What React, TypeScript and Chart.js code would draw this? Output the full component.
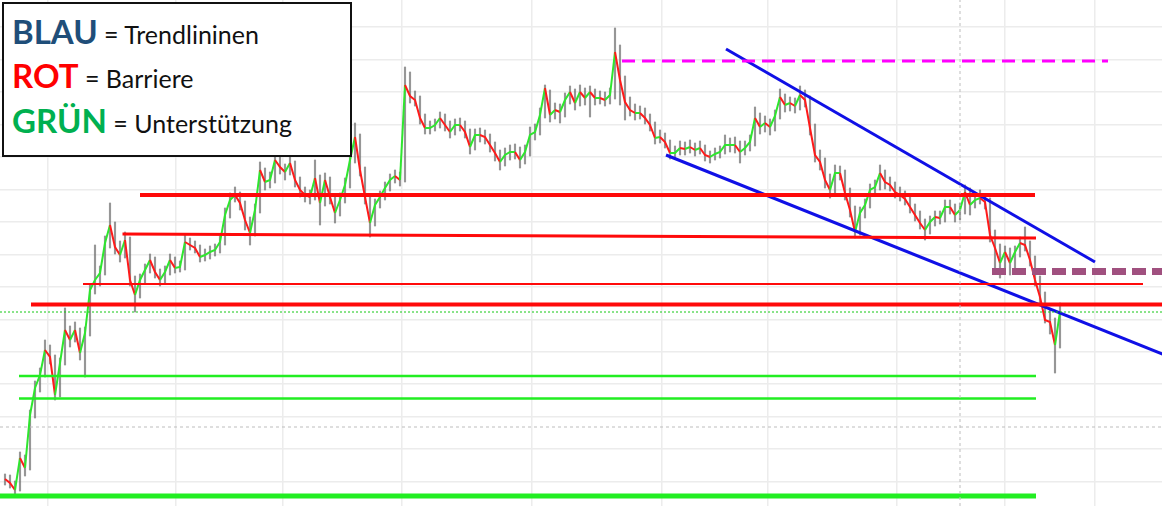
import React, { useEffect, useRef } from "react";
import { Chart, registerables } from "chart.js";

Chart.register(...registerables);

// Price series (one value per session)
const closes = [
  102.1, 101.7, 101.0, 104.2, 103.2, 108.5, 111.2, 112.5, 115.0, 114.3,
  110.5, 113.7, 117.0, 116.0, 117.0, 114.7, 116.7, 121.0, 122.0, 122.7,
  125.7, 127.5, 125.3, 124.5, 126.0, 122.0, 120.5, 122.0, 123.0, 124.0,
  122.8, 122.0, 122.8, 124.0, 123.2, 123.3, 125.8, 125.5, 125.2, 124.3,
  124.5, 124.8, 125.0, 125.8, 128.5, 130.0, 130.5, 129.7, 128.0, 126.7,
  129.0, 133.0, 131.8, 132.0, 134.0, 133.3, 132.8, 133.7, 132.0, 131.0,
  130.5, 130.3, 132.2, 129.7, 132.0, 130.3, 128.7, 130.0, 131.5, 134.0,
  136.3, 133.0, 130.3, 127.7, 129.5, 130.3, 131.2, 132.0, 132.4, 132.0,
  141.5, 140.4, 140.0, 138.2, 137.2, 137.2, 137.5, 138.2, 137.5, 136.8,
  137.5, 137.5, 136.8, 135.3, 136.5, 136.5, 136.3, 135.5, 134.7, 133.8,
  134.5, 134.8, 134.8, 134.0, 134.8, 136.5, 136.8, 138.5, 141.2, 138.5,
  139.0, 138.8, 140.0, 140.8, 139.7, 140.8, 140.2, 140.8, 140.2, 140.2,
  140.0, 140.5, 144.8, 142.0, 139.8, 139.0, 138.7, 138.7, 138.2, 137.5,
  136.2, 136.3, 135.8, 134.7, 134.7, 135.2, 135.1, 135.3, 135.0, 135.2,
  134.5, 134.3, 134.6, 134.8, 135.5, 135.5, 135.5, 134.8, 135.2, 135.8,
  138.2, 137.3, 137.7, 137.3, 138.4, 140.3, 139.5, 139.7, 139.4, 140.5,
  140.0, 137.2, 134.5, 133.8, 132.0, 131.0, 132.7, 132.7, 130.7, 129.0,
  126.8, 128.7, 129.5, 131.0, 131.3, 132.7, 131.8, 131.5, 130.8, 130.5,
  130.1, 129.3, 128.5, 127.7, 127.0, 127.8, 128.3, 128.2, 129.3, 129.3,
  128.5, 129.0, 130.8, 129.5, 130.0, 130.2, 129.8, 126.5, 125.2, 123.7,
  124.8, 123.7, 124.8, 125.7, 125.5, 124.0, 122.0, 120.3, 118.0, 117.8,
  115.5, 118.8,
];

const highs = [
  102.6, 102.5, 101.9, 104.8, 104.5, 109.0, 111.9, 113.2, 116.0, 115.5,
  114.5, 114.2, 119.2, 117.4, 117.8, 117.2, 117.3, 121.6, 125.5, 123.4,
  126.4, 129.7, 127.8, 125.9, 126.8, 126.3, 122.4, 122.6, 123.6, 124.6,
  124.3, 123.1, 123.4, 124.6, 124.3, 123.9, 126.5, 126.2, 125.9, 125.5,
  125.1, 125.4, 125.6, 126.4, 129.2, 130.7, 131.3, 130.8, 129.9, 128.3,
  129.6, 133.8, 133.2, 132.8, 134.8, 134.3, 133.6, 134.4, 133.9, 132.3,
  131.3, 131.0, 134.0, 132.5, 132.7, 132.3, 130.6, 130.7, 132.2, 134.7,
  137.7, 136.6, 133.3, 130.6, 130.1, 130.9, 131.8, 132.6, 133.0, 132.8,
  143.3, 142.8, 140.9, 140.4, 138.6, 137.9, 138.1, 138.8, 138.6, 137.9,
  138.1, 138.2, 137.9, 137.1, 137.1, 137.2, 137.0, 136.6, 135.8, 135.0,
  135.2, 135.5, 135.6, 135.3, 135.5, 137.3, 137.6, 139.2, 141.5, 141.0,
  139.7, 139.6, 140.7, 141.4, 141.1, 141.5, 141.2, 141.4, 141.1, 140.9,
  140.8, 141.2, 147.2, 145.5, 142.4, 140.3, 139.6, 139.4, 139.2, 138.6,
  137.8, 137.0, 136.7, 136.0, 135.4, 135.9, 135.8, 136.0, 135.7, 135.9,
  135.5, 134.9, 135.2, 135.4, 136.5, 136.2, 136.3, 135.9, 135.9, 136.5,
  139.3, 138.7, 138.4, 138.1, 139.0, 141.1, 140.6, 140.3, 140.2, 141.4,
  141.0, 140.4, 137.6, 135.0, 134.2, 132.6, 133.5, 133.4, 133.0, 131.2,
  129.4, 129.3, 130.1, 131.6, 132.0, 133.5, 133.0, 132.3, 131.8, 131.3,
  130.9, 130.4, 129.6, 128.9, 128.1, 128.4, 128.9, 128.9, 130.0, 130.0,
  129.6, 129.7, 131.5, 131.2, 130.7, 131.0, 130.6, 130.2, 127.0, 125.6,
  125.4, 125.2, 125.4, 126.3, 127.3, 125.9, 124.4, 122.4, 120.8, 119.0,
  118.2, 119.7,
];

const lows = [
  101.5, 101.2, 100.5, 100.9, 102.4, 103.0, 108.2, 110.8, 112.3, 113.6,
  110.0, 110.3, 113.5, 115.3, 115.8, 114.0, 112.3, 116.4, 120.6, 121.4,
  122.5, 125.2, 124.6, 123.8, 124.2, 121.4, 118.8, 120.2, 121.6, 122.7,
  122.2, 121.4, 121.7, 122.5, 122.7, 122.8, 123.0, 125.0, 124.7, 123.8,
  123.9, 124.1, 124.4, 124.7, 125.5, 128.2, 129.8, 129.0, 127.0, 125.5,
  126.4, 128.7, 131.0, 131.2, 131.7, 132.6, 132.0, 132.5, 131.3, 130.3,
  129.8, 129.6, 130.0, 127.5, 129.4, 129.6, 127.7, 128.4, 129.7, 131.2,
  133.7, 132.4, 129.6, 126.3, 127.4, 129.2, 130.0, 130.9, 131.7, 131.4,
  131.8, 139.7, 139.4, 137.6, 136.6, 136.6, 136.9, 137.2, 136.9, 136.2,
  136.5, 136.9, 136.2, 134.6, 135.0, 135.8, 135.6, 134.8, 133.9, 133.0,
  133.4, 134.0, 134.1, 133.2, 133.6, 134.4, 136.0, 136.5, 138.2, 137.8,
  138.1, 137.7, 138.3, 139.6, 139.0, 139.4, 139.5, 138.3, 139.5, 139.6,
  139.4, 139.6, 140.1, 139.5, 138.0, 138.4, 138.0, 138.1, 137.6, 136.9,
  135.6, 135.7, 135.2, 134.1, 134.1, 134.5, 134.5, 134.7, 134.4, 134.6,
  133.9, 133.7, 134.0, 134.2, 134.6, 134.8, 134.7, 133.7, 134.5, 134.9,
  135.4, 136.6, 136.8, 136.5, 136.9, 138.1, 138.8, 138.9, 138.7, 139.0,
  139.3, 136.5, 133.8, 133.0, 131.2, 130.2, 130.6, 132.0, 130.0, 128.3,
  126.2, 126.5, 128.2, 129.2, 130.6, 131.0, 131.1, 130.9, 130.2, 129.9,
  129.5, 128.7, 127.9, 127.1, 126.0, 126.6, 127.4, 127.6, 127.8, 128.6,
  127.8, 128.0, 128.6, 128.5, 129.2, 129.6, 129.1, 125.8, 123.0, 122.2,
  123.2, 122.5, 123.2, 124.3, 124.9, 123.4, 121.4, 119.6, 117.7, 116.6,
  112.7, 115.2,
];

// Drawn levels: [fromSession, toSession, startPrice, endPrice]
const barriers = [
  [27, 206, 130.5, 130.5],
  [23.5, 206.2, 126.6, 126.2],
  [15.6, 227.6, 121.6, 121.6],
  [5.2, 232, 119.55, 119.55],
];
const supports = [
  [2.8, 206.2, 112.4, 112.4],
  [2.8, 206.2, 110.15, 110.15],
  [-1, 206.2, 100.4, 100.4],
];
const trendlines = [
  [144.2, 218, 145.1, 123.8],
  [132.2, 232, 134.5, 114.5],
];
const peakLevel = [123.4, 220.6, 143.9];
const resistanceZone = [197.4, 232, 122.85];
const lastPrice = 118.8;
const referencePrice = 107.3;
const referenceSession = 191;

// Grid (date / price ticks)
const xTicks = [8.6, 34.2, 55.6, 79.4, 105.4, 131.4, 152.6, 178.4, 200, 218];
const yTicks = [101.8, 105.1, 108.3, 111.6, 114.8, 118.0, 121.3, 124.5, 127.8, 131.0, 134.3, 137.5, 140.8, 144.0, 147.3];

const X_MIN = -1;
const X_MAX = 231.4;
const Y_MIN = 99.4;
const Y_MAX = 150;

const barrierWidths = [4, 3, 2, 4];
const supportWidths = [2.5, 2.5, 5];

function seg(a: number[], color: string, width: number, dash: number[] = []) {
  return {
    type: "line" as const,
    data: [
      { x: a[0], y: a[2] },
      { x: a[1], y: a[3] },
    ],
    borderColor: color,
    borderWidth: width,
    borderDash: dash,
    pointRadius: 0,
    fill: false,
    order: 0,
    borderCapStyle: "butt" as const,
  };
}

export default function App() {
  const ref = useRef<HTMLCanvasElement | null>(null);

  useEffect(() => {
    document.body.style.margin = "0";
    const canvas = ref.current;
    if (!canvas) return;

    const datasets: any[] = [];
    datasets.push(seg([X_MIN, X_MAX, referencePrice, referencePrice], "#bdbdbd", 1, [3, 3]));
    datasets.push(seg([referenceSession, referenceSession, Y_MIN, Y_MAX], "#bdbdbd", 1, [3, 3]));
    datasets.push(seg([X_MIN, X_MAX, lastPrice, lastPrice], "#14c814", 1, [2, 2]));
    supports.forEach((s, i) => datasets.push(seg(s, "#22ee22", supportWidths[i])));
    barriers.forEach((b, i) => datasets.push(seg(b, "#ff0a0a", barrierWidths[i])));
    datasets.push(seg([peakLevel[0], peakLevel[1], peakLevel[2], peakLevel[2]], "#ff00ff", 3, [13, 7]));
    datasets.push(seg([resistanceZone[0], resistanceZone[1], resistanceZone[2], resistanceZone[2]], "#a0507f", 7, [14, 6]));
    trendlines.forEach((t) => datasets.push(seg(t, "#1010e6", 3)));

    datasets.push({
      type: "line",
      data: closes.map((c, i) => ({ x: i, y: c })),
      borderWidth: 2,
      pointRadius: 0,
      order: 5,
      segment: {
        borderColor: (ctx: any) => (ctx.p1.parsed.y >= ctx.p0.parsed.y ? "#2ee62e" : "#ff1a1a"),
      },
    });
    datasets.push({
      type: "bar",
      data: lows.map((l, i) => ({ x: i, y: [l, highs[i]] })),
      backgroundColor: "rgba(115,115,115,0.75)",
      barThickness: 1.5,
      grouped: false,
      order: 6,
    });

    const chart = new Chart(canvas, {
      type: "line",
      data: { datasets },
      options: {
        animation: false,
        responsive: false,
        maintainAspectRatio: false,
        layout: { padding: 0 },
        plugins: { legend: { display: false }, tooltip: { enabled: false } },
        scales: {
          x: {
            type: "linear",
            min: X_MIN,
            max: X_MAX,
            offset: false,
            border: { display: false },
            ticks: { display: false },
            grid: { color: "#ececec", lineWidth: 1.5, drawTicks: false, tickLength: 0, offset: false },
            afterBuildTicks: (axis: any) => {
              axis.ticks = xTicks.map((v) => ({ value: v }));
            },
          },
          y: {
            type: "linear",
            min: Y_MIN,
            max: Y_MAX,
            border: { display: false },
            ticks: { display: false },
            grid: { color: "#ececec", lineWidth: 1.5, drawTicks: false, tickLength: 0, offset: false },
            afterBuildTicks: (axis: any) => {
              axis.ticks = yTicks.map((v) => ({ value: v }));
            },
          },
        },
      } as any,
    });
    return () => chart.destroy();
  }, []);

  const rowStyle: React.CSSProperties = {
    position: "absolute",
    left: 8,
    fontFamily: "Lato, 'Open Sans', sans-serif",
    fontSize: 33,
    lineHeight: "40px",
    whiteSpace: "nowrap",
  };
  const keyStyle = (color: string): React.CSSProperties => ({ color, fontWeight: 700 });
  const textStyle: React.CSSProperties = { fontSize: 25, color: "#111", fontWeight: 400 };

  return (
    <div style={{ position: "relative", width: 1162, height: 506, background: "#fff" }}>
      <canvas ref={ref} width={1162} height={506} style={{ display: "block" }} />
      <div
        style={{
          position: "absolute",
          left: 2,
          top: 2,
          width: 346,
          height: 151,
          border: "2px solid #111",
          background: "#fff",
        }}
      >
        <div style={{ ...rowStyle, top: 7 }}>
          <span style={keyStyle("#1f4e79")}>BLAU</span>
          <span style={textStyle}> = Trendlininen</span>
        </div>
        <div style={{ ...rowStyle, top: 51 }}>
          <span style={keyStyle("#ff0000")}>ROT</span>
          <span style={textStyle}> = Barriere</span>
        </div>
        <div style={{ ...rowStyle, top: 96 }}>
          <span style={keyStyle("#00b050")}>GRÜN</span>
          <span style={textStyle}> = Unterstützung</span>
        </div>
      </div>
    </div>
  );
}
